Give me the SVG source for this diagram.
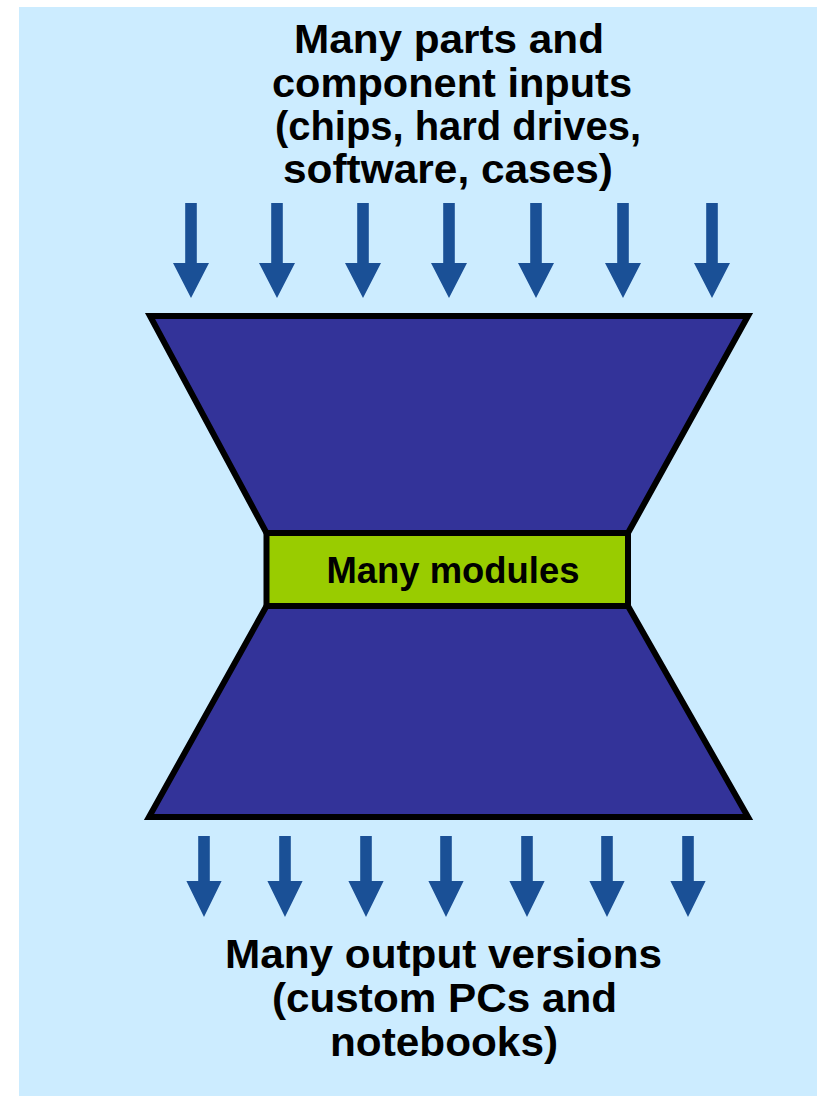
<svg xmlns="http://www.w3.org/2000/svg" width="817" height="1096" viewBox="0 0 817 1096">
  <style>
    .label { font-family: "Liberation Sans", Arial, sans-serif; font-weight: bold; fill: #000; text-anchor: middle; }
    .big { font-size: 41px; }
    .mid { font-size: 36px; }
    .funnel { fill: #333399; stroke: #000; stroke-width: 6; stroke-linejoin: miter; }
    .core { fill: #99CC00; stroke: #000; stroke-width: 6; }
    .flow { fill: #1A5096; }
  </style>
  <defs>
    <!-- downward block arrow, origin at top centre of the shaft -->
    <polygon id="arrowIn" points="-5.8,0 5.8,0 5.8,60 18,60 0,95 -18,60 -5.8,60"/>
    <polygon id="arrowOut" points="-5.8,0 5.8,0 5.8,45 17.6,45 0,81 -17.6,45 -5.8,45"/>
  </defs>

  <!-- panel -->
  <rect x="19" y="7" width="798" height="1089" fill="#CCECFF"/>

  <g id="inputs-label">
    <text class="label big" x="449" y="53" textLength="310" lengthAdjust="spacingAndGlyphs">Many parts and</text>
    <text class="label big" x="452" y="97" textLength="360" lengthAdjust="spacingAndGlyphs">component inputs</text>
    <text class="label big" x="458" y="140" textLength="366" lengthAdjust="spacingAndGlyphs">(chips, hard drives,</text>
    <text class="label big" x="448" y="183" textLength="330" lengthAdjust="spacingAndGlyphs">software, cases)</text>
  </g>

  <g id="flows">
    <g class="flow">
      <use href="#arrowIn" x="191" y="203"/>
      <use href="#arrowIn" x="277" y="203"/>
      <use href="#arrowIn" x="363" y="203"/>
      <use href="#arrowIn" x="449" y="203"/>
      <use href="#arrowIn" x="536" y="203"/>
      <use href="#arrowIn" x="623" y="203"/>
      <use href="#arrowIn" x="712" y="203"/>
    </g>
    <g class="flow">
      <use href="#arrowOut" x="204" y="836"/>
      <use href="#arrowOut" x="285" y="836"/>
      <use href="#arrowOut" x="366" y="836"/>
      <use href="#arrowOut" x="446" y="836"/>
      <use href="#arrowOut" x="527" y="836"/>
      <use href="#arrowOut" x="607" y="836"/>
      <use href="#arrowOut" x="688" y="836"/>
    </g>
  </g>

  <g id="funnel-in">
    <polygon class="funnel" points="150,316 748,316 628,533 266.5,533"/>
  </g>
  <g id="funnel-out">
    <polygon class="funnel" points="266.5,606 628,606 748,817 149,817"/>
  </g>

  <g id="modules">
    <rect class="core" x="266.5" y="533" width="361.5" height="73"/>
    <text class="label mid" x="453" y="583" textLength="253" lengthAdjust="spacingAndGlyphs">Many modules</text>
  </g>

  <g id="outputs-label">
    <text class="label big" x="443.5" y="968" textLength="437" lengthAdjust="spacingAndGlyphs">Many output versions</text>
    <text class="label big" x="444.5" y="1012" textLength="345" lengthAdjust="spacingAndGlyphs">(custom PCs and</text>
    <text class="label big" x="444" y="1056" textLength="228" lengthAdjust="spacingAndGlyphs">notebooks)</text>
  </g>
</svg>
